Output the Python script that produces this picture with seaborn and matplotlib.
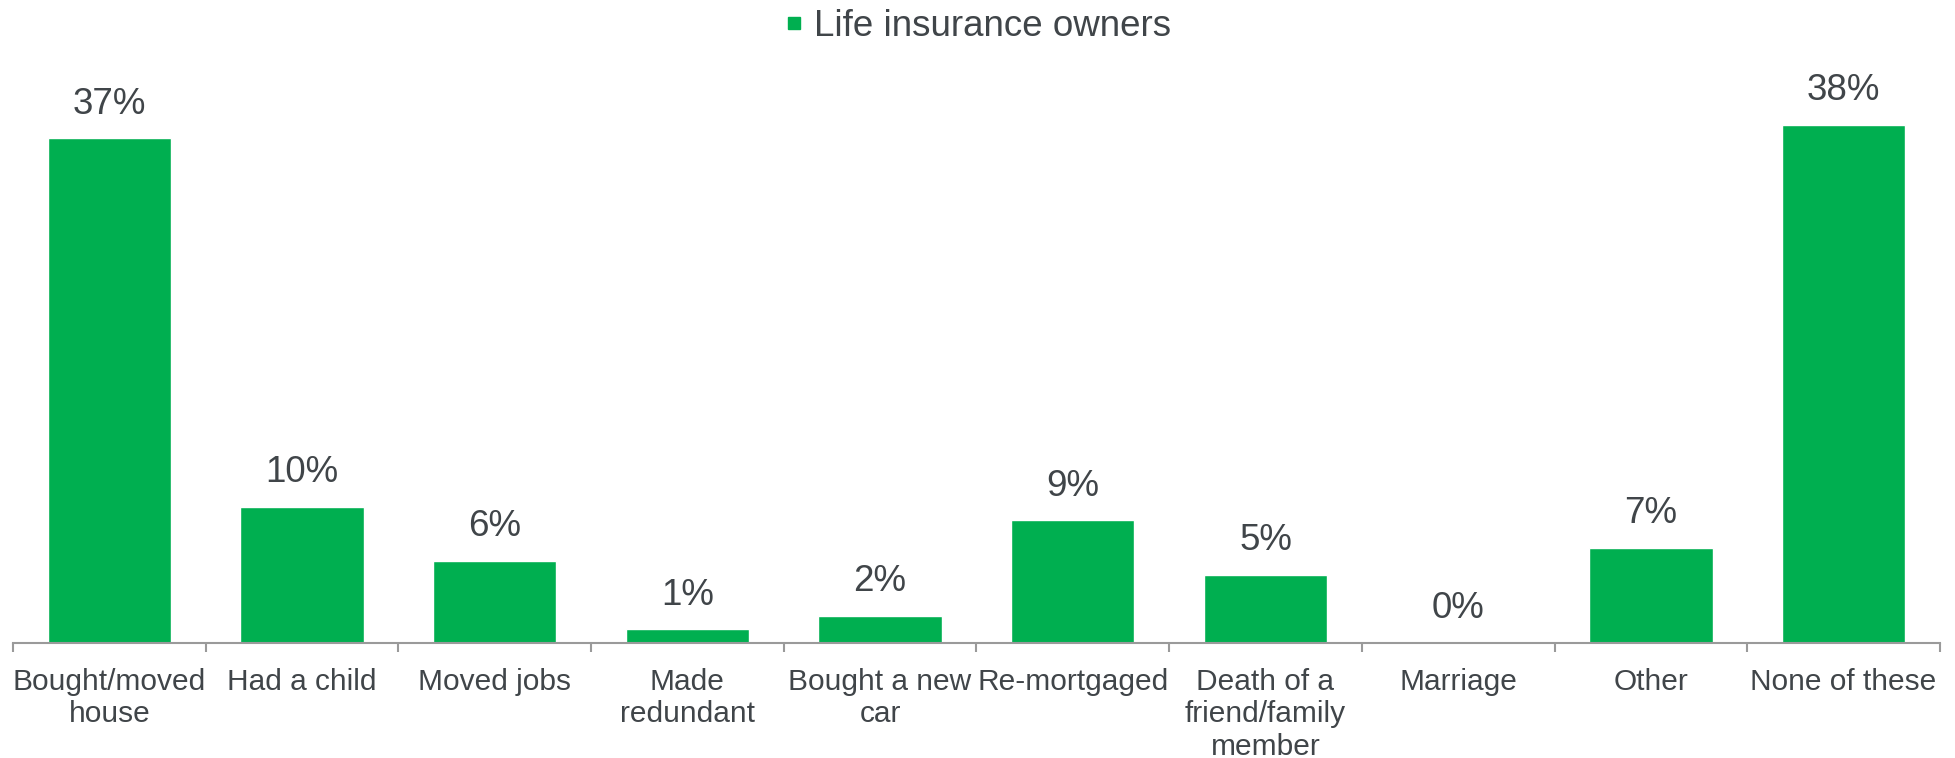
import matplotlib
matplotlib.use("Agg")
import matplotlib.pyplot as plt
import seaborn as sns
import pandas as pd
from matplotlib.ticker import FixedLocator
from matplotlib.lines import Line2D

categories = [
    "Bought/moved\nhouse", "Had a child", "Moved jobs", "Made\nredundant",
    "Bought a new\ncar", "Re-mortgaged", "Death of a\nfriend/family\nmember",
    "Marriage", "Other", "None of these",
]
values = [37, 10, 6, 1, 2, 9, 5, 0, 7, 38]
series_name = "Life insurance owners"

GREEN = "#00AF50"
TEXT = "#404549"
AXIS = "#9a9a9a"

sns.set_theme(style="white")
plt.rcParams["font.family"] = ["Liberation Sans", "DejaVu Sans"]

df = pd.DataFrame({"category": categories, "value": values})

fig = plt.figure(figsize=(19.56, 7.58), dpi=100)
ax = fig.add_axes([0.0066, 0.1517, 0.9852, 0.756])

sns.barplot(data=df, x="category", y="value", color=GREEN, saturation=1,
            width=0.64, ax=ax)

ax.set_xlim(-0.5, len(categories) - 0.5)
ax.set_ylim(0, 42)

for patch, v in zip(ax.patches, values):
    ax.annotate(f"{v}%", (patch.get_x() + patch.get_width() / 2, patch.get_height()),
                xytext=(0, 12), textcoords="offset points", ha="center", va="bottom",
                fontsize=26.5, color=TEXT)

for side in ["top", "right", "left"]:
    ax.spines[side].set_visible(False)
ax.spines["bottom"].set_color(AXIS)
ax.spines["bottom"].set_linewidth(1.5)
ax.set_yticks([])
ax.set_xlabel("")
ax.set_ylabel("")

ax.xaxis.set_minor_locator(FixedLocator([i - 0.5 for i in range(len(categories) + 1)]))
ax.tick_params(axis="x", which="minor", length=6.5, width=1.5, color=AXIS, direction="out", bottom=True)
ax.tick_params(axis="x", which="major", length=0, pad=18, labelsize=21.5, labelcolor=TEXT)
for lbl in ax.get_xticklabels():
    lbl.set_linespacing(1.2)
    lbl.set_verticalalignment("top")

handle = Line2D([], [], marker="s", linestyle="", color=GREEN, markersize=9)
leg = ax.legend(handles=[handle], labels=[series_name], loc="upper center",
                bbox_to_anchor=(0.5, 1.008), bbox_transform=fig.transFigure,
                frameon=False, fontsize=26.5, handlelength=0.5,
                handletextpad=0.3, borderaxespad=0.0)
for t in leg.get_texts():
    t.set_color(TEXT)

fig.savefig("out.png", dpi=100)
